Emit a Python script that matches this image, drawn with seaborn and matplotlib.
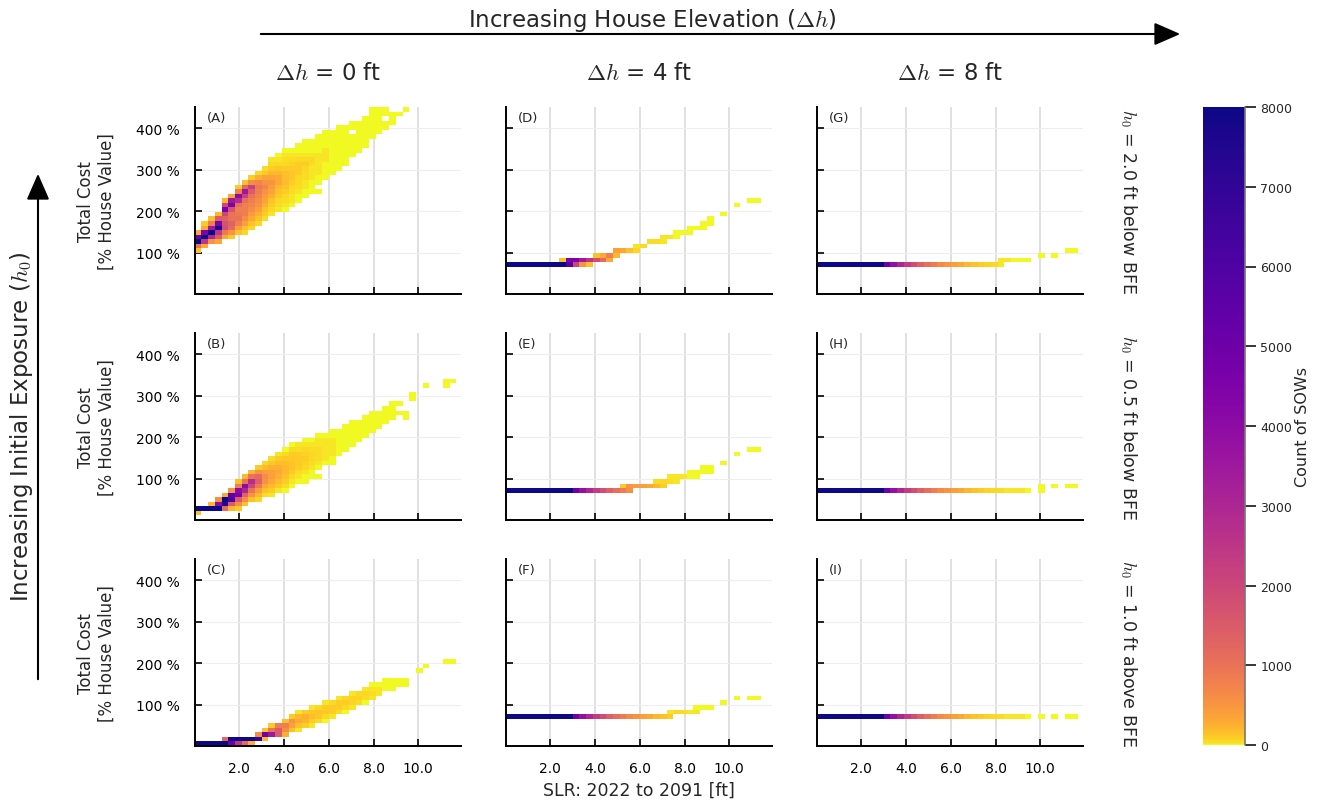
import numpy as np
import pandas as pd
import matplotlib
matplotlib.use("Agg")
import matplotlib.pyplot as plt
import seaborn as sns
from matplotlib.colors import ListedColormap, Normalize
from matplotlib.cm import ScalarMappable
from matplotlib.patches import FancyArrowPatch

# ---------------------------------------------------------------------------
# Binning of the 2-D histograms
SLR_BIN = 0.3     # ft
COST_BIN = 11.0   # % of house value
SLR_EDGES = np.arange(0, 12.0 + 1e-9, SLR_BIN)
COST_EDGES = np.arange(0, 462.0 + 1e-9, COST_BIN)

# ---------------------------------------------------------------------------
# Counts of SOWs per histogram cell.
# Each panel: SLR bin index of a column, cost bin index of its lowest cell,
# and the counts of that column from the lowest cell upward.

# (A) h0 = 2.0 ft below BFE, dh = 0 ft
A_col = list(range(32))
A_row0 = [9, 10, 11, 11, 12, 12, 13, 13, 14, 15, 16, 17, 18, 18, 19, 20,
          21, 22, 22, 25, 26, 27, 28, 30, 31, 32, 34, 35, 36, 37, 39, 40]
A_n = [
    [150, 1000, 8000, 5000, 300],
    [300, 2500, 8000, 4500, 300, 100],
    [500, 3000, 8000, 3500, 800, 150],
    [300, 1500, 2500, 7500, 4500, 1500, 200],
    [300, 900, 1800, 1700, 1300, 2000, 4500, 2000, 200],
    [100, 500, 1200, 1300, 1000, 1000, 1700, 4500, 3500, 300],
    [150, 400, 800, 1000, 900, 800, 1100, 2800, 4000, 800, 100],
    [50, 150, 400, 600, 800, 800, 800, 1100, 2200, 3500, 1200, 150],
    [60, 150, 300, 450, 600, 700, 800, 1000, 1500, 2200, 600, 80],
    [60, 150, 250, 400, 500, 600, 700, 800, 900, 700, 250, 60],
    [40, 100, 150, 250, 350, 450, 550, 700, 550, 350, 120, 40],
    [30, 60, 100, 150, 250, 350, 450, 500, 350, 200, 80, 40, 20],
    [20, 40, 60, 100, 150, 200, 300, 300, 200, 120, 60, 30, 15],
    [15, 25, 40, 60, 90, 130, 180, 170, 150, 100, 60, 35, 20, 10],
    [10, 20, 30, 45, 60, 80, 110, 120, 100, 70, 40, 20, 10],
    [10, 15, 25, 35, 50, 60, 80, 100, 80, 50, 25, 15, 8],
    [8, 12, 20, 25, 35, 45, 60, 90, 60, 30, 15, 10, 5],
    [5, 10, 15, 20, 25, 30, 40, 50, 30, 15, 10, 5],
    [5, 0, 8, 12, 16, 20, 25, 30, 22, 15, 10, 7, 4],
    [5, 8, 12, 15, 18, 20, 16, 11, 8, 5, 3],
    [4, 6, 9, 11, 13, 12, 10, 8, 6, 4],
    [3, 5, 7, 9, 10, 9, 7, 5, 4, 2],
    [3, 4, 6, 7, 7, 6, 5, 4, 3],
    [3, 4, 5, 5, 4, 0, 3, 2],
    [2, 3, 4, 4, 3, 3, 2],
    [2, 2, 3, 3, 2, 2, 2],
    [2, 2, 2, 2, 2, 1, 1],
    [1, 2, 1, 1, 1, 1],
    [1, 1, 0, 1, 1],
    [1, 1, 1],
    [1],
    [1],
]

# (B) h0 = 0.5 ft below BFE, dh = 0 ft
B_col = list(range(32)) + [32, 34, 37, 38]
B_row0 = [1, 2, 2, 2, 2, 2, 2, 3, 4, 4, 5, 5, 6, 6, 7, 8,
          8, 9, 9, 12, 12, 14, 15, 16, 17, 18, 19, 20, 21, 22, 23, 22,
          26, 29, 29, 30]
B_n = [
    [150, 9000],
    [9000],
    [9000, 200],
    [8000, 4000, 600],
    [1200, 7500, 8000, 300],
    [200, 1500, 6000, 5500, 500],
    [100, 600, 1500, 4500, 4000, 800, 150],
    [150, 600, 1300, 3000, 4000, 1000, 200],
    [150, 500, 1000, 2000, 2800, 1000, 200],
    [50, 200, 450, 900, 1400, 1200, 500, 100],
    [40, 150, 300, 550, 600, 450, 180, 50],
    [20, 80, 180, 320, 400, 380, 250, 120, 40],
    [30, 100, 180, 250, 300, 250, 170, 80, 20],
    [15, 40, 90, 150, 200, 200, 170, 110, 50, 15],
    [10, 30, 60, 100, 130, 140, 120, 80, 35, 10],
    [10, 20, 45, 80, 100, 100, 80, 45, 20],
    [5, 10, 30, 55, 70, 80, 70, 50, 30, 10],
    [5, 12, 30, 40, 50, 50, 45, 30, 12],
    [8, 0, 15, 25, 35, 40, 38, 30, 18, 8],
    [12, 20, 28, 30, 28, 20, 10],
    [6, 12, 18, 20, 22, 20, 14, 6],
    [8, 12, 15, 15, 12, 6],
    [6, 9, 10, 10, 8, 4],
    [5, 6, 8, 7, 5, 3],
    [4, 5, 6, 5, 3],
    [3, 4, 4, 3, 2],
    [2, 3, 3, 2, 1],
    [1, 2, 2, 1],
    [1, 1, 1, 1],
    [1, 1, 1, 1],
    [1, 0, 1],
    [1, 1],
    [1, 1],
    [1],
    [1, 1],
    [1],
]

# (C) h0 = 1.0 ft above BFE, dh = 0 ft
C_col = list(range(32)) + [33, 34, 37, 38]
C_row0 = [0, 0, 0, 0, 0, 0, 0, 0, 0, 1, 1, 2, 2, 2, 3, 3,
          4, 4, 5, 5, 6, 7, 7, 8, 9, 9, 10, 11, 12, 12, 13, 13,
          16, 17, 18, 18]
C_n = [
    [9000], [9000], [9000], [9000],
    [8000, 1200],
    [5000, 8000],
    [2500, 8000],
    [1200, 8000],
    [250, 8000],
    [7000, 600],
    [200, 5000, 150],
    [3500, 1000, 100],
    [1500, 1500, 800],
    [250, 600, 800, 150],
    [150, 400, 500, 100],
    [30, 150, 300, 200, 30],
    [80, 220, 250, 80],
    [25, 90, 160, 120, 25],
    [40, 110, 140, 55],
    [15, 55, 120, 95, 20],
    [25, 80, 100, 50],
    [40, 90, 90, 20],
    [15, 50, 100, 50],
    [25, 65, 75, 20],
    [40, 65, 50],
    [12, 40, 50, 20],
    [20, 40, 30, 8],
    [20, 25, 15],
    [15, 12, 5],
    [8, 10, 8],
    [5, 5],
    [3, 4],
    [2], [2], [2], [2],
]

# (D) h0 = 2.0 ft below BFE, dh = 4 ft
D_col = list(range(31)) + [32, 34, 36, 37]
D_row0 = [6, 6, 6, 6, 6, 6, 6, 6, 6, 6, 6, 6, 6, 7, 7, 7,
          8, 9, 9, 9, 10, 11, 11, 11, 12, 12, 13, 13, 14, 14, 15,
          17, 19, 20, 20]
D_n = [
    [9000], [9000], [9000], [9000], [9000], [9000], [9000], [9000],
    [9000, 150],
    [6000, 4500],
    [2000, 4500],
    [500, 3500],
    [150, 2500],
    [1800, 150],
    [1200, 300],
    [300, 800],
    [200, 400],
    [300],
    [150],
    [60, 30],
    [50],
    [40],
    [40],
    [20, 30],
    [25],
    [15, 12],
    [12],
    [10, 8],
    [8],
    [5, 5],
    [5, 4],
    [3], [3], [3], [3],
]

# (E) h0 = 0.5 ft below BFE, dh = 4 ft
E_col = list(range(31)) + [32, 34, 36, 37]
E_row0 = [6] * 19 + [7, 7, 7, 7, 7, 8, 8, 9, 9, 9, 10, 10, 12, 14, 15, 15]
E_n = [
    [9000], [9000], [9000], [9000], [9000], [9000], [9000], [9000],
    [9000], [9000],
    [5000], [3800], [3000], [2300], [1800], [1400], [1100],
    [850, 100],
    [600, 500],
    [450], [400], [320],
    [200, 40],
    [80, 50],
    [40, 30],
    [30, 25],
    [20],
    [15, 10],
    [10, 10],
    [6, 6],
    [5, 5],
    [3], [3], [3], [3],
]

# (F) h0 = 1.0 ft above BFE, dh = 4 ft
F_col = list(range(31)) + [32, 34, 36, 37]
F_row0 = [6] * 25 + [7, 7, 7, 7, 8, 8, 9, 10, 10, 10]
F_n = [
    [9000], [9000], [9000], [9000], [9000], [9000], [9000], [9000],
    [9000], [9000],
    [5000], [3800], [3000], [2300], [1800], [1400], [1100], [850],
    [650], [500], [400], [320], [200], [150],
    [80, 30],
    [50], [40], [30],
    [20, 15],
    [15], [12],
    [4], [3], [3], [3],
]

# (G) h0 = 2.0 ft below BFE, dh = 8 ft
G_col = list(range(32)) + [33, 35, 37, 38]
G_row0 = [6] * 28 + [7, 7, 7, 7, 8, 8, 9, 9]
G_n = [
    [9000], [9000], [9000], [9000], [9000], [9000], [9000], [9000],
    [9000], [9000],
    [5000], [3800], [3000], [2300], [1800], [1400], [1100], [850],
    [650], [500], [400], [320], [200], [150], [100], [70], [50],
    [30, 20],
    [20], [15], [12], [10],
    [4], [3], [3], [3],
]

# (H) h0 = 0.5 ft below BFE, dh = 8 ft
H_col = list(range(32)) + [33, 35, 37, 38]
H_row0 = [6] * 33 + [7, 7, 7]
H_n = [
    [9000], [9000], [9000], [9000], [9000], [9000], [9000], [9000],
    [9000], [9000],
    [5000], [3800], [3000], [2300], [1800], [1400], [1100], [850],
    [650], [500], [400], [320], [200], [150], [100], [70], [50],
    [40], [30], [25], [20], [15],
    [4, 4], [3], [3], [3],
]

# (I) h0 = 1.0 ft above BFE, dh = 8 ft
I_col = list(range(32)) + [33, 35, 37, 38]
I_row0 = [6] * 36
I_n = [
    [9000], [9000], [9000], [9000], [9000], [9000], [9000], [9000],
    [9000], [9000],
    [5000], [3800], [3000], [2300], [1800], [1400], [1100], [850],
    [650], [500], [400], [320], [200], [150], [100], [70], [50],
    [40], [30], [25], [20], [15],
    [4], [3], [3], [3],
]

# ---------------------------------------------------------------------------
# Labels
elevations = ["0", "4", "8"]
exposures = ["2.0 ft below BFE", "0.5 ft below BFE", "1.0 ft above BFE"]
letters = [["A", "D", "G"], ["B", "E", "H"], ["C", "F", "I"]]
panels = [[(A_col, A_row0, A_n), (D_col, D_row0, D_n), (G_col, G_row0, G_n)],
          [(B_col, B_row0, B_n), (E_col, E_row0, E_n), (H_col, H_row0, H_n)],
          [(C_col, C_row0, C_n), (F_col, F_row0, F_n), (I_col, I_row0, I_n)]]
slr_ticks = [2, 4, 6, 8, 10]
cost_ticks = [100, 200, 300, 400]
count_ticks = [0, 1000, 2000, 3000, 4000, 5000, 6000, 7000, 8000]
COUNT_MAX = 8000


def cells_to_frame(cols, row0s, counts):
    xs, ys, ws = [], [], []
    for c, r0, col_counts in zip(cols, row0s, counts):
        for k, n in enumerate(col_counts):
            if n > 0:
                xs.append((c + 0.5) * SLR_BIN)
                ys.append((r0 + k + 0.5) * COST_BIN)
                ws.append(n)
    return pd.DataFrame({"slr": xs, "cost": ys, "n": ws})


# reversed plasma, stretched so low counts already leave the yellow end
_base = plt.get_cmap("plasma_r")
cmap = ListedColormap(_base(np.sqrt(np.linspace(0, 1, 512))))

sns.set_theme(style="ticks")
plt.rcParams["font.family"] = ["DejaVu Sans"]
plt.rcParams["mathtext.fontset"] = "cm"

W, H = 1340, 804
fig = plt.figure(figsize=(W / 100, H / 100), dpi=100)


def px_axes(x0, y0, x1, y1):
    return fig.add_axes([x0 / W, 1 - y1 / H, (x1 - x0) / W, (y1 - y0) / H])


col_left = [194.7, 505.7, 816.7]
panel_w = 266
row_top = [108, 334, 560]
panel_h = 187

for r in range(3):
    for c in range(3):
        ax = px_axes(col_left[c], row_top[r], col_left[c] + panel_w, row_top[r] + panel_h)
        df = cells_to_frame(*panels[r][c])
        sns.histplot(data=df, x="slr", y="cost", weights="n",
                     bins=[SLR_EDGES, COST_EDGES], cmap=cmap,
                     vmin=0, vmax=COUNT_MAX, cbar=False, ax=ax)
        ax.set_xlim(0, 11.9)
        ax.set_ylim(0, 451)
        ax.set_xlabel("")
        ax.set_ylabel("")
        ax.set_xticks(slr_ticks)
        ax.set_yticks(cost_ticks)
        ax.set_xticklabels([f"{t:.1f}" for t in slr_ticks] if r == 2 else [])
        ax.set_yticklabels([f"{t} %" for t in cost_ticks] if c == 0 else [])
        ax.tick_params(direction="in", length=5, width=1.2, colors="black",
                       labelsize=10, pad=11)
        for s in ["top", "right"]:
            ax.spines[s].set_visible(False)
        for s in ["left", "bottom"]:
            ax.spines[s].set_color("black")
            ax.spines[s].set_linewidth(1.4)
        ax.set_axisbelow(True)
        ax.xaxis.grid(True, color="#e0e0e0", linewidth=1.4)
        ax.yaxis.grid(True, color="#eeeeee", linewidth=0.8)
        ax.text(0.045, 0.945, f"({letters[r][c]})", transform=ax.transAxes,
                fontsize=9.5, ha="left", va="center")

# colour bar
cax = px_axes(1203, 108, 1245, 746)
cb = fig.colorbar(ScalarMappable(norm=Normalize(0, COUNT_MAX), cmap=cmap),
                  cax=cax, ticks=count_ticks)
cb.outline.set_visible(False)
cax.plot([1, 1], [0, 1], transform=cax.transAxes, color="#777777",
         linewidth=1.2, clip_on=False)
cax.tick_params(direction="out", length=8, width=1.3, labelsize=9, pad=3)
cb.set_label("Count of SOWs", fontsize=11.5, labelpad=2)

# column and row annotations
col_centers = [x + panel_w / 2 for x in col_left]
row_centers = [y + panel_h / 2 for y in row_top]
for c, e in enumerate(elevations):
    fig.text(col_centers[c] / W, 1 - 73 / H, f"$\\Delta h$ = {e} ft",
             ha="center", va="center", fontsize=16.5)
for r, ex in enumerate(exposures):
    fig.text(1128 / W, 1 - row_centers[r] / H, f"$h_0$ = {ex}",
             rotation=-90, ha="center", va="center", fontsize=12.5)
    fig.text(96 / W, 1 - row_centers[r] / H, "Total Cost\n[% House Value]",
             rotation=90, ha="center", va="center", fontsize=12,
             multialignment="center")

fig.text(col_centers[1] / W, 1 - 791 / H, "SLR: 2022 to 2091 [ft]",
         ha="center", va="center", fontsize=12.5)

fig.text(652 / W, 1 - 20 / H, "Increasing House Elevation ($\\Delta h$)",
         ha="center", va="center", fontsize=16.5)
fig.text(22 / W, 1 - 427 / H, "Increasing Initial Exposure ($h_0$)",
         rotation=90, ha="center", va="center", fontsize=16.5)

arrow_style = "-|>,head_length=0.8,head_width=0.35"
fig.patches.append(FancyArrowPatch((258 / W, 1 - 35 / H), (1183 / W, 1 - 35 / H),
                                   transform=fig.transFigure, arrowstyle=arrow_style,
                                   mutation_scale=20, linewidth=1.5, color="black"))
fig.patches.append(FancyArrowPatch((38 / W, 1 - 683 / H), (38 / W, 1 - 172 / H),
                                   transform=fig.transFigure, arrowstyle=arrow_style,
                                   mutation_scale=20, linewidth=1.5, color="black"))

fig.savefig("out.png", dpi=100)
